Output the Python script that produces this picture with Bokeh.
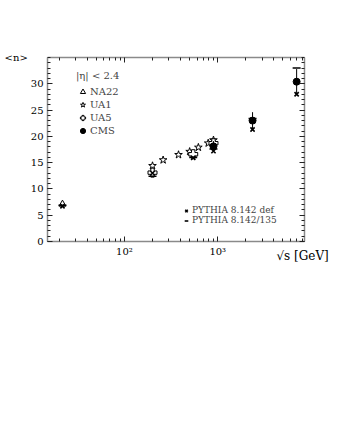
from bokeh.plotting import figure
from bokeh.models import (Range1d, FixedTicker, LogAxis, LinearAxis, Legend, LegendItem,
                          ColumnDataSource, CustomJSTickFormatter)
from bokeh.embed import file_html
from bokeh.resources import INLINE

FONT = "DejaVu Serif"

# ---- data ----
na22_x = [21.7]
na22_y = [7.1]
ua1_x = [200, 260, 380, 500, 620, 790, 900]
ua1_y = [14.4, 15.5, 16.5, 17.1, 17.9, 18.7, 19.3]
ua5_x = [200, 546, 900]
ua5_y = [13.1, 16.6, 18.7]
cms_x = [900, 2360, 7000]
cms_y = [18.1, 23.0, 30.4]
cms_err = [1.0, 1.6, 2.4]
pydef_x = [21.7, 200, 546, 900, 2360, 7000]
pydef_y = [6.7, 13.0, 15.9, 17.2, 21.3, 28.0]
py135_x = [21.7, 200, 546, 900, 2360, 7000]
py135_y = [6.9, 12.4, 16.0, 17.6, 23.4, 33.0]

x_major = [100, 1000]
x_minor = [20, 30, 40, 50, 60, 70, 80, 90, 200, 300, 400, 500, 600, 700, 800, 900,
           2000, 3000, 4000, 5000, 6000, 7000, 8000]
x_labels = {100: "10²", 1000: "10³"}
y_major = [0, 5, 10, 15, 20, 25, 30]
y_minor = list(range(0, 36))

p = figure(width=329, height=290, x_axis_type="log",
           x_range=Range1d(15, 8500), y_range=Range1d(0, 35),
           output_backend="svg", toolbar_location=None,
           min_border_left=47, min_border_right=25, min_border_top=57, min_border_bottom=49)
p.outline_line_color = None
p.xgrid.visible = False
p.ygrid.visible = False
p.background_fill_color = "white"


def style(ax):
    ax.axis_line_color = "#8a8a8a"
    ax.axis_line_width = 1.5
    ax.major_tick_line_color = "#222222"
    ax.minor_tick_line_color = "#222222"
    ax.major_tick_in = 5
    ax.major_tick_out = 0
    ax.minor_tick_in = 3
    ax.minor_tick_out = 0
    ax.major_label_text_font = FONT
    ax.major_label_text_font_size = "10px"
    ax.major_label_text_color = "black"
    ax.major_label_standoff = 4
    ax.axis_label_text_font = FONT
    ax.axis_label_text_font_style = "normal"
    ax.axis_label_text_color = "black"


xt = FixedTicker(ticks=x_major, minor_ticks=x_minor)
yt = FixedTicker(ticks=y_major, minor_ticks=y_minor)

xa = p.xaxis[0]
xa.ticker = xt
xa.major_label_overrides = x_labels
style(xa)
xa.axis_label = "√s  [GeV]"
xa.axis_label_text_font_size = "12px"
xa.axis_label_standoff = -11
xa.axis_label_text_align = "right"
ya = p.yaxis[0]
ya.ticker = yt
style(ya)
ya.axis_label = "<n>"
ya.axis_label_text_font_size = "10px"
ya.axis_label_orientation = "horizontal"
ya.axis_label_standoff = 0
try:
    xa.axis_label_align = "end"
    ya.axis_label_align = "end"
except Exception:
    pass

top = LogAxis(ticker=xt, formatter=CustomJSTickFormatter(code="return ''"))
style(top)
right = LinearAxis(ticker=yt, formatter=CustomJSTickFormatter(code="return ''"))
style(right)
p.add_layout(top, "above")
p.add_layout(right, "right")

# ---- glyphs ----
r_ua1 = p.scatter(ua1_x, ua1_y, marker="star", size=8, fill_color="white",
                  line_color="black", line_width=1)
r_ua5 = p.scatter(ua5_x, ua5_y, marker="plus", size=9, fill_color="white",
                  line_color="black", line_width=1)
r_na22 = p.scatter(na22_x, na22_y, marker="triangle", size=7, fill_color="white",
                   line_color="black", line_width=1)

cms_src = ColumnDataSource(dict(x=cms_x, y=cms_y,
                                lo=[v - e for v, e in zip(cms_y, cms_err)],
                                hi=[v + e for v, e in zip(cms_y, cms_err)]))
p.segment(x0="x", y0="lo", x1="x", y1="hi", source=cms_src, line_color="black", line_width=1)
r_cms = p.scatter("x", "y", source=cms_src, marker="circle", size=7,
                  fill_color="black", line_color="black")

r_def = p.scatter(pydef_x, pydef_y, marker="x", size=6, line_color="black", line_width=1.6)
r_135 = p.scatter(py135_x, py135_y, marker="dash", size=8, line_color="black", line_width=1.6)

# ---- legends ----
leg1 = Legend(items=[LegendItem(label="NA22", renderers=[r_na22]),
                     LegendItem(label="UA1", renderers=[r_ua1]),
                     LegendItem(label="UA5", renderers=[r_ua5]),
                     LegendItem(label="CMS", renderers=[r_cms])],
              title="|η| < 2.4", location=(29, 104), orientation="vertical",
              label_text_font=FONT, label_text_font_size="10px",
              title_text_font=FONT, title_text_font_size="10px", title_text_font_style="normal",
              title_standoff=4, glyph_width=13, glyph_height=13, label_height=13,
              label_standoff=1, spacing=0, padding=0, margin=0,
              background_fill_alpha=0, border_line_color=None)
leg2 = Legend(items=[LegendItem(label="PYTHIA 8.142 def", renderers=[r_def]),
                     LegendItem(label="PYTHIA 8.142/135", renderers=[r_135])],
              location=(134, 16), orientation="vertical",
              label_text_font=FONT, label_text_font_size="9px",
              glyph_width=10, glyph_height=9, label_height=9,
              label_standoff=1, spacing=0, padding=0, margin=0,
              background_fill_alpha=0, border_line_color=None)
p.add_layout(leg1)
p.add_layout(leg2)

open("out.html", "w").write(file_html(p, INLINE))
